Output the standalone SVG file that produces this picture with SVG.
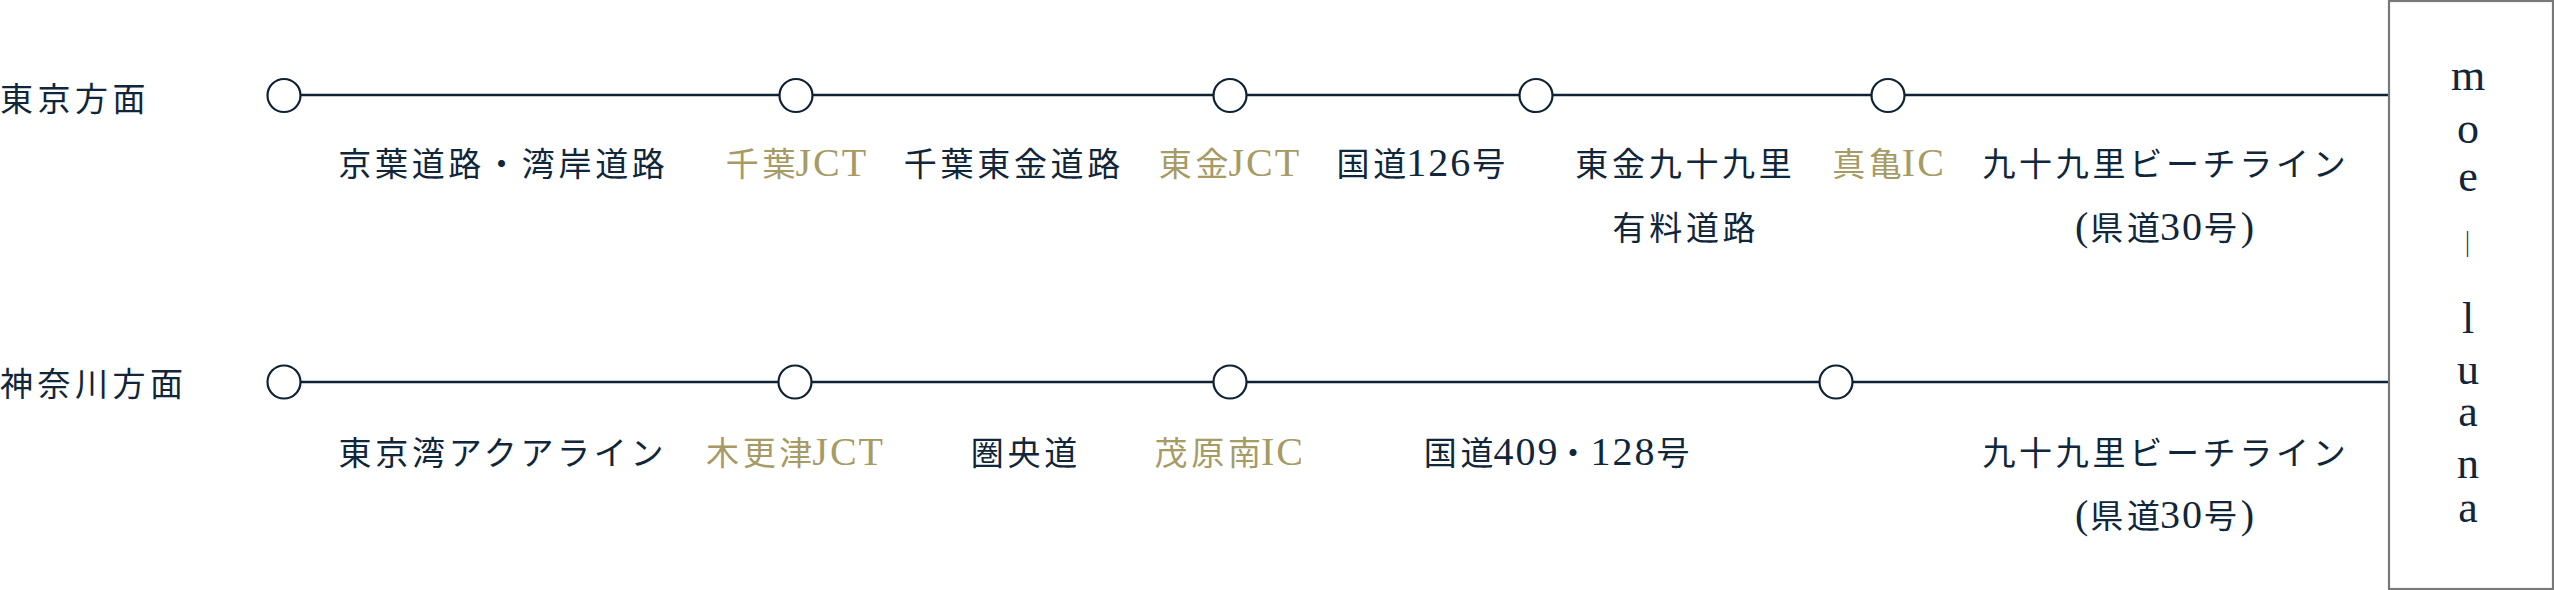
<svg xmlns="http://www.w3.org/2000/svg" width="2554" height="590" viewBox="0 0 2554 590">
<style>
.t{font-family:"Liberation Serif","Noto Sans CJK JP",serif;font-size:33px;letter-spacing:3.7px;fill:#10263a}
.l{font-size:40px;letter-spacing:2px}
.m{text-anchor:middle}
.g{fill:#a69b65}
.road{stroke:#0f2233;stroke-width:2.5;fill:none}
.stop{fill:#ffffff;stroke:#0f2233;stroke-width:2.2}
.logo{font-family:"Liberation Serif",serif;font-size:44px;fill:#10263a;text-anchor:middle}
.bar{font-family:"Noto Sans CJK JP",sans-serif;font-size:26px}
</style>
<rect width="2554" height="590" fill="#ffffff"/>
<g id="connectors">
<line class="road" x1="284" y1="95" x2="2389" y2="95"/>
<line class="road" x1="284" y1="382" x2="2389" y2="382"/>
</g>
<g id="tokyo-heading"><text class="t" x="0" y="110.5" style="letter-spacing:4.5px">東京方面</text></g>
<g id="kanagawa-heading"><text class="t" x="0" y="396" style="letter-spacing:4.5px">神奈川方面</text></g>
<g id="row1-stops">
<circle class="stop" cx="284" cy="95.5" r="16.5"/>
<circle class="stop" cx="796" cy="95.5" r="16.5"/>
<circle class="stop" cx="1230" cy="95.5" r="16.5"/>
<circle class="stop" cx="1536" cy="95.5" r="16.5"/>
<circle class="stop" cx="1888" cy="95.5" r="16.5"/>
</g>
<g id="row2-stops">
<circle class="stop" cx="284" cy="382" r="16.5"/>
<circle class="stop" cx="795" cy="382" r="16.5"/>
<circle class="stop" cx="1230" cy="382" r="16.5"/>
<circle class="stop" cx="1836" cy="382" r="16.5"/>
</g>
<g id="row1-labels">
<text class="t m" x="503.4" y="176">京葉道路・湾岸道路</text>
<text class="t m g" x="797" y="176">千葉<tspan class="l" dx="-3.7">JCT</tspan></text>
<text class="t m" x="1013.9" y="176">千葉東金道路</text>
<text class="t m g" x="1230" y="176">東金<tspan class="l" dx="-3.7">JCT</tspan></text>
<text class="t m" x="1422.8" y="176">国道<tspan class="l" dx="-3.7">126</tspan>号</text>
<text class="t m" x="1685.4" y="176">東金九十九里</text>
<text class="t m" x="1685.9" y="239.5">有料道路</text>
<text class="t m g" x="1889" y="176">真亀<tspan class="l" dx="-3.7">IC</tspan></text>
<text class="t m" x="2165.9" y="176">九十九里ビーチライン</text>
<text class="t m" x="2165.5" y="239.5"><tspan class="l">(</tspan>県道<tspan class="l" dx="-3.7">30</tspan>号<tspan class="l">)</tspan></text>
</g>
<g id="row2-labels">
<text class="t m" x="502.9" y="464.5">東京湾アクアライン</text>
<text class="t m g" x="795.5" y="464.5">木更津<tspan class="l" dx="-3.7">JCT</tspan></text>
<text class="t m" x="1025.9" y="464.5">圏央道</text>
<text class="t m g" x="1229.7" y="464.5">茂原南<tspan class="l" dx="-3.7">IC</tspan></text>
<text class="t m" x="1558.5" y="464.5">国道<tspan class="l" dx="-3.7">409</tspan><tspan dx="-3">・</tspan><tspan class="l" dx="-2.7">128</tspan>号</text>
<text class="t m" x="2165.9" y="464.5">九十九里ビーチライン</text>
<text class="t m" x="2165.5" y="527.5"><tspan class="l">(</tspan>県道<tspan class="l" dx="-3.7">30</tspan>号<tspan class="l">)</tspan></text>
</g>
<g id="moe-luana">
<rect x="2389" y="1" width="164" height="588" fill="#ffffff" stroke="#787878" stroke-width="2.2"/>
<text class="logo"><tspan x="2468" y="90">m</tspan><tspan x="2468" y="142.5">o</tspan><tspan x="2468" y="191">e</tspan><tspan class="bar" x="2467.5" y="254">｜</tspan><tspan x="2468" y="333">l</tspan><tspan x="2468" y="384">u</tspan><tspan x="2468" y="426">a</tspan><tspan x="2468" y="478">n</tspan><tspan x="2468" y="522">a</tspan></text>
</g>
</svg>
